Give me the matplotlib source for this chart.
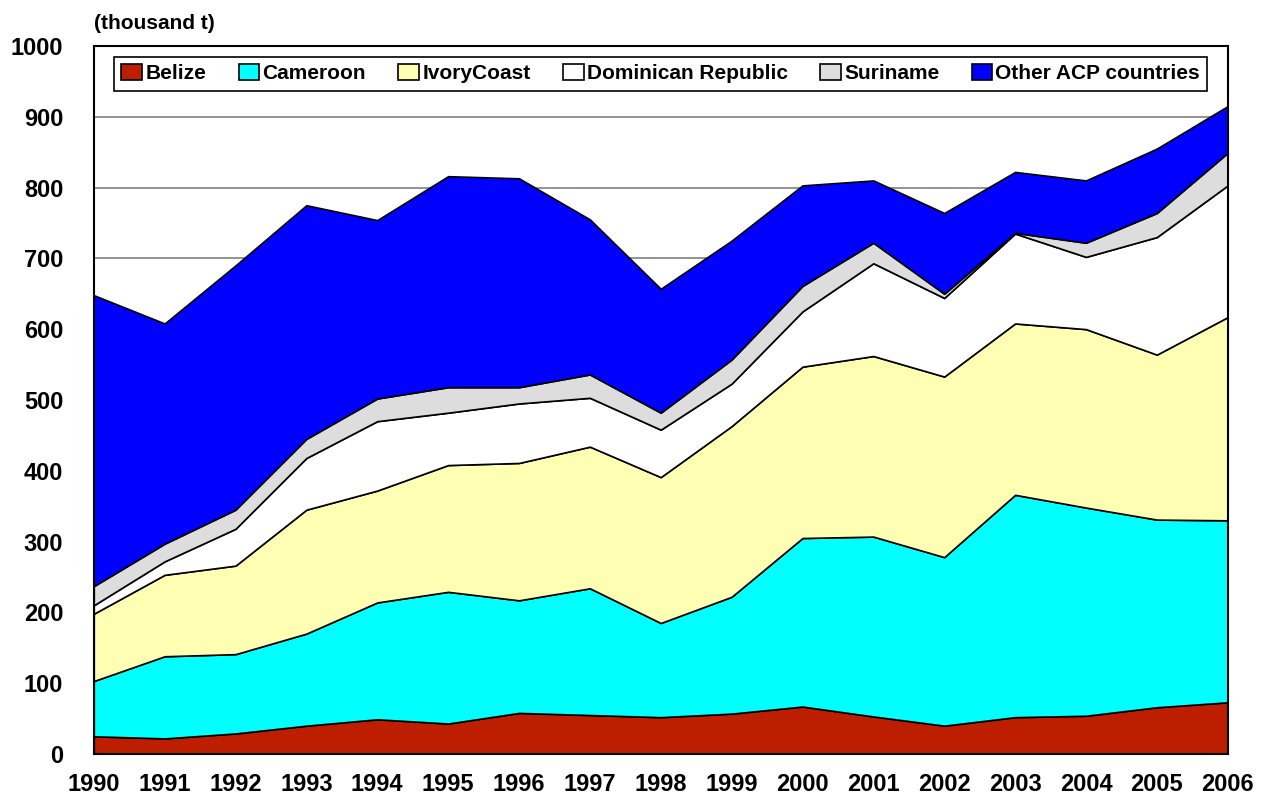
import matplotlib
matplotlib.use("Agg")
import matplotlib.pyplot as plt

years = list(range(1990, 2007))
belize = [25, 22, 29, 40, 49, 43, 58, 55, 52, 57, 67, 53, 40, 52, 54, 66, 73]
cameroon = [78, 116, 112, 130, 165, 186, 159, 179, 133, 165, 238, 254, 238, 314, 294, 265, 257]
ivory = [95, 115, 125, 175, 158, 179, 194, 200, 206, 241, 242, 255, 255, 242, 252, 233, 287]
dominican = [12, 19, 52, 73, 98, 74, 84, 69, 67, 60, 78, 131, 111, 127, 102, 166, 186]
suriname = [27, 25, 27, 27, 32, 36, 23, 33, 24, 34, 36, 29, 6, 1, 20, 34, 46]
other = [411, 311, 345, 330, 252, 298, 295, 219, 175, 168, 142, 88, 114, 86, 88, 91, 66]

names = ["Belize", "Cameroon", "IvoryCoast", "Dominican Republic", "Suriname", "Other ACP countries"]
colors = ["#BD1E00", "#00FFFF", "#FFFFB4", "#FFFFFF", "#DDDDDD", "#0000FF"]

plt.rcParams["font.family"] = ["Liberation Sans", "DejaVu Sans"]
plt.rcParams["font.weight"] = "bold"

fig = plt.figure(figsize=(12.67, 8.01), dpi=100)
ax = fig.add_axes([0.074, 0.0587, 0.895, 0.884])

ax.set_axisbelow(True)
ax.yaxis.grid(True, color="#808080", linewidth=1.2)
ax.stackplot(years, belize, cameroon, ivory, dominican, suriname, other,
             colors=colors, labels=names, edgecolor="black", linewidth=1.2, zorder=2)

ax.set_xlim(1990, 2006)
ax.set_ylim(0, 1000)
ax.set_xticks(years)
ax.set_yticks(range(0, 1001, 100))
ax.tick_params(length=0, labelsize=17)
ax.tick_params(axis="y", pad=22)
ax.tick_params(axis="x", pad=14)
for lab in ax.get_xticklabels() + ax.get_yticklabels():
    lab.set_fontweight("bold")
for sp in ax.spines.values():
    sp.set_color("black")
    sp.set_linewidth(1.5)

ax.text(0.0, 1.018, "(thousand t)", transform=ax.transAxes, fontsize=15,
        fontweight="bold", ha="left", va="bottom")

leg = ax.legend(loc="upper center", ncol=6, fontsize=15, frameon=True,
                fancybox=False, edgecolor="black", framealpha=1,
                bbox_to_anchor=(0.5, 0.999), handlelength=1.0, handleheight=0.75,
                handletextpad=0.15, columnspacing=1.55, borderpad=0.35)
leg.get_frame().set_linewidth(1.2)
for t in leg.get_texts():
    t.set_fontweight("bold")

fig.savefig("out.png", dpi=100)
